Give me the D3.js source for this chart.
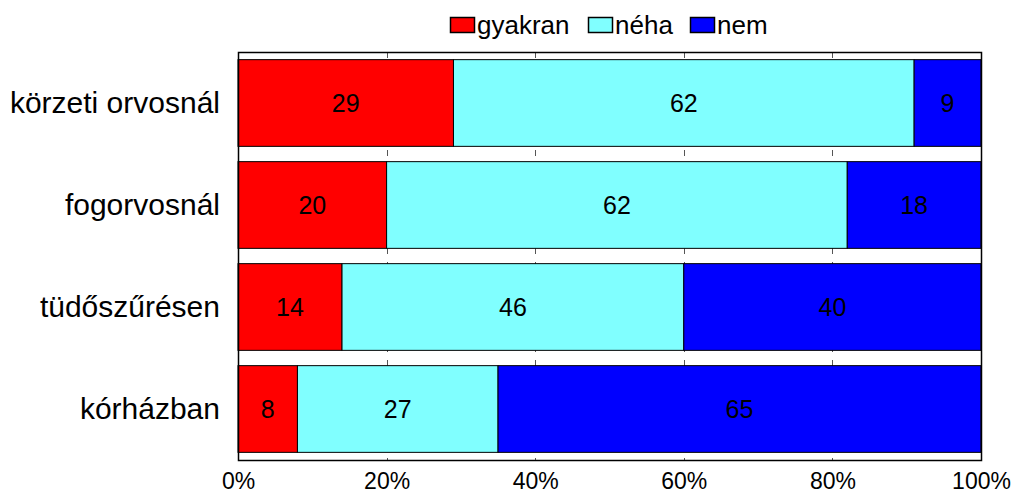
<!DOCTYPE html>
<html><head><meta charset="utf-8">
<script src="https://cdn.jsdelivr.net/npm/d3@7"></script>
<style>body{margin:0;background:#fff}svg{display:block;font-family:"Liberation Sans",Arial,sans-serif}</style>
</head><body><svg id="c" width="1014" height="496"></svg>
<script>
const categories = ["körzeti orvosnál","fogorvosnál","tüdőszűrésen","kórházban"];
const seriesNames = ["gyakran","néha","nem"];
const gyakran = [29,20,14,8];
const neha = [62,62,46,27];
const nem = [9,18,40,65];
const tickValues = [0,20,40,60,80,100];
const tickLabels = ["0%","20%","40%","60%","80%","100%"];
const colors = ["#FF0000","#80FFFF","#0000FF"];

const svg = d3.select("#c");
const m = {l:238, r:981, t:52, b:460};
const x = d3.scaleLinear().domain([0,100]).range([m.l,m.r]);
const y = d3.scaleBand().domain(categories).range([m.t,m.b]).paddingInner(0.15).paddingOuter(0.075);

const rows = categories.map((c,i)=>({cat:c, gyakran:gyakran[i], "néha":neha[i], nem:nem[i]}));
const stack = d3.stack().keys(seriesNames)(rows);

// gridlines (dashed, behind bars)
svg.append("g").selectAll("line").data(tickValues.slice(1,-1)).join("line")
  .attr("x1",d=>Math.round(x(d))+0.5).attr("x2",d=>Math.round(x(d))+0.5)
  .attr("y1",m.t).attr("y2",m.b)
  .attr("stroke","#555").attr("stroke-width",1).attr("stroke-dasharray","6,8");

// bars
const g = svg.append("g");
stack.forEach((s,si)=>{
  g.selectAll(null).data(s).join("rect")
    .attr("x",d=>x(d[0])).attr("width",d=>x(d[1])-x(d[0]))
    .attr("y",d=>y(d.data.cat)).attr("height",y.bandwidth())
    .attr("fill",colors[si]).attr("stroke","#000").attr("stroke-width",1);
});
stack.forEach((s,si)=>{
  g.selectAll(null).data(s).join("text")
    .attr("x",d=>(x(d[0])+x(d[1]))/2).attr("y",d=>y(d.data.cat)+y.bandwidth()/2)
    .attr("dy","0.36em").attr("text-anchor","middle")
    .attr("font-size",25).attr("fill","#000")
    .text(d=>d[1]-d[0]);
});

// frame
svg.append("rect").attr("x",m.l+0.5).attr("y",m.t+0.5).attr("width",m.r-m.l).attr("height",m.b-m.t)
  .attr("fill","none").attr("stroke","#000").attr("stroke-width",1.5);

// x axis labels
const xa = svg.append("g").attr("transform",`translate(0,${m.b})`)
  .call(d3.axisBottom(x).tickValues(tickValues).tickSize(0).tickPadding(13).tickFormat((d,i)=>tickLabels[i]));
xa.select(".domain").remove();
xa.selectAll("text").attr("font-size",23).attr("fill","#000").attr("font-family","Liberation Sans, Arial, sans-serif");

// y axis labels
const ya = svg.append("g").attr("transform",`translate(${m.l},0)`)
  .call(d3.axisLeft(y).tickSize(0).tickPadding(18));
ya.select(".domain").remove();
ya.selectAll("text").attr("font-size",30).attr("fill","#000").attr("font-family","Liberation Sans, Arial, sans-serif");

// legend
const legX = [450,588,690];
const lg = svg.append("g");
seriesNames.forEach((n,i)=>{
  lg.append("rect").attr("x",legX[i]+0.5).attr("y",17.5).attr("width",24).attr("height",15)
    .attr("fill",colors[i]).attr("stroke","#000").attr("stroke-width",1.5);
  lg.append("text").attr("x",legX[i]+27).attr("y",25).attr("dy","0.36em")
    .attr("font-size",26).attr("fill","#000").text(n);
});
</script></body></html>
